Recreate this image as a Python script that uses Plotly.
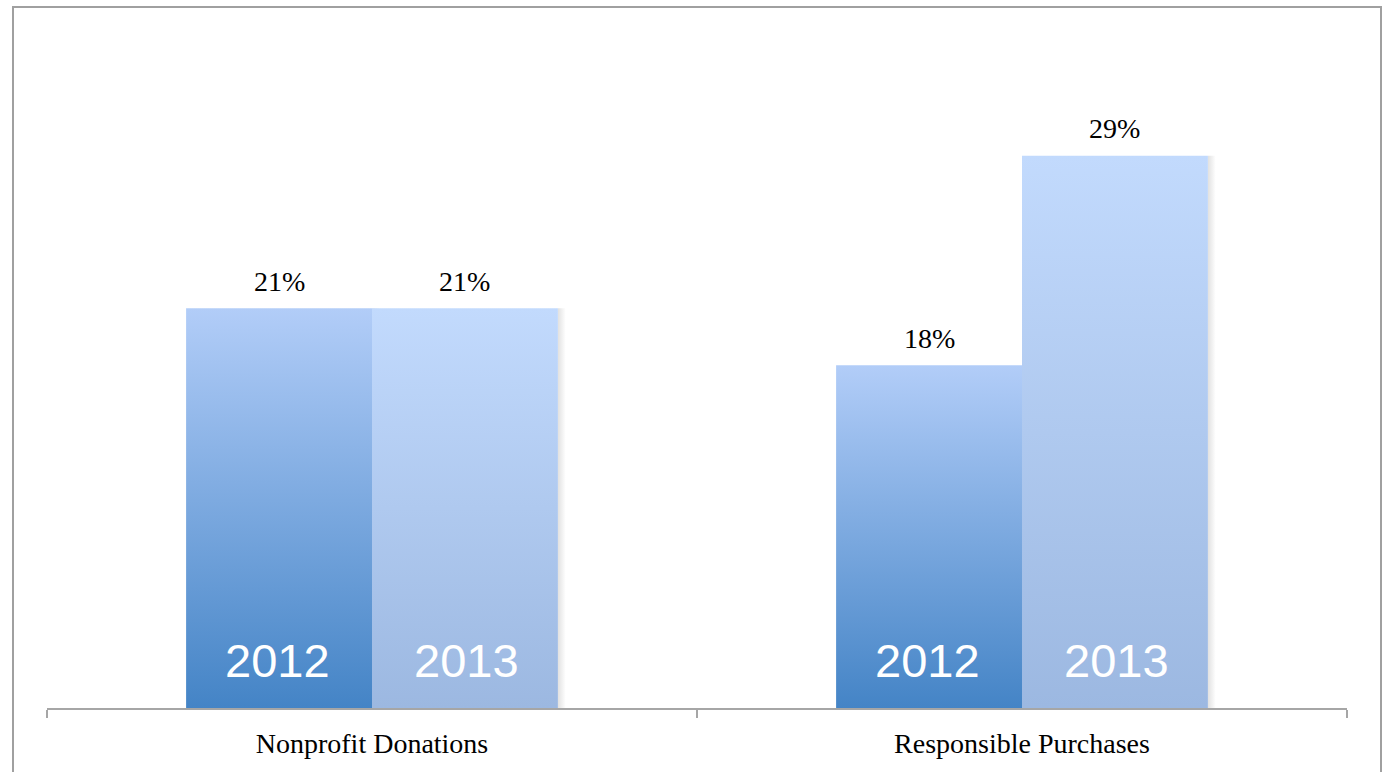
import plotly.graph_objects as go

# Survey categories and yearly shares (%)
categories = ["Nonprofit Donations", "Responsible Purchases"]
years = ["2012", "2013"]
values_2012 = [21, 18]
values_2013 = [21, 29]
series = {"2012": values_2012, "2013": values_2013}

# Vertical gradient per year: (bottom colour, top colour)
gradients = {
    "2012": ("#4484c6", "#b2cdf8"),
    "2013": ("#9cb8e1", "#c2dafd"),
}

W, H = 1385, 772
bar_w = 0.286  # width of each bar in category units

fig = go.Figure()

for ci, cat in enumerate(categories):
    center = ci + 0.5
    for yi, yr in enumerate(years):
        v = series[yr][ci]
        x0 = center - bar_w + yi * bar_w
        x1 = x0 + bar_w
        # soft drop shadow to the right of each bar
        fig.add_trace(go.Scatter(
            x=[x1, x1 + 0.012, x1 + 0.012, x1, x1],
            y=[0, 0, v, v, 0],
            mode="lines", line=dict(width=0),
            fill="toself",
            fillgradient=dict(type="horizontal",
                              colorscale=[[0, "rgba(0,0,0,0.12)"], [1, "rgba(0,0,0,0)"]]),
            hoverinfo="skip", showlegend=False,
        ))
        fig.add_trace(go.Scatter(
            x=[x0, x1, x1, x0, x0],
            y=[0, 0, v, v, 0],
            mode="lines", line=dict(width=0),
            fill="toself",
            fillgradient=dict(type="vertical",
                              colorscale=[[0, gradients[yr][0]], [1, gradients[yr][1]]]),
            name=yr, hoverinfo="skip", showlegend=False,
        ))
        xc = (x0 + x1) / 2
        # value label above bar
        fig.add_annotation(x=xc, y=v, text=f"{v}%", showarrow=False,
                           yanchor="middle", yshift=27,
                           font=dict(family="Liberation Serif", size=28, color="#000000"))
        # year label inside bar base
        fig.add_annotation(x=xc, y=0, text=yr, showarrow=False,
                           yanchor="middle", yshift=48, xshift=-2 if yi == 0 else 2,
                           font=dict(family="Liberation Sans", size=47, color="#ffffff"))

y_max = 35
base_px = 708
px_per_unit = 19.04
top_px = base_px - y_max * px_per_unit

fig.update_layout(
    width=W, height=H,
    margin=dict(l=0, r=0, t=0, b=0),
    paper_bgcolor="white", plot_bgcolor="white",
    xaxis=dict(
        domain=[47 / W, 1347 / W],
        range=[0, len(categories)],
        tickvals=[i + 0.5 for i in range(len(categories))],
        ticktext=categories,
        ticks="", showgrid=False, zeroline=False,
        showline=True, linecolor="#a6a6a6", linewidth=2,
        tickfont=dict(family="Liberation Serif", size=28, color="#000000"),
        ticklabelstandoff=9,
        minor=dict(tickvals=list(range(len(categories) + 1)), ticks="outside",
                   ticklen=8, tickwidth=2, tickcolor="#a6a6a6", showgrid=False),
        fixedrange=True,
    ),
    yaxis=dict(
        domain=[(H - base_px) / H, (H - top_px) / H],
        range=[0, y_max],
        visible=False, showgrid=False, zeroline=False,
        fixedrange=True,
    ),
    shapes=[dict(type="rect", xref="paper", yref="paper",
                 x0=13 / W, x1=1381 / W, y0=-0.05, y1=1 - 7 / H,
                 line=dict(color="#a0a0a0", width=2), layer="below")],
)

fig.write_html("out.html")
